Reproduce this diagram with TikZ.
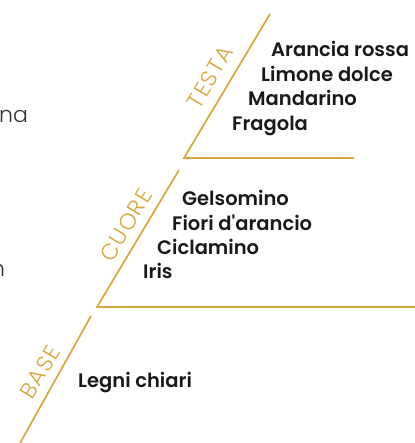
\documentclass[tikz,border=0pt]{standalone}
\usepackage{fontspec}
\setmainfont{Poppins}
\newfontfamily\notefont{Poppins SemiBold}
\newfontfamily\lightfont{Poppins Light}[LetterSpace=6]
\newfontfamily\cutfont{Poppins Light}
\definecolor{gold}{RGB}{212,168,58}
\definecolor{ink}{RGB}{25,25,25}
\definecolor{grayink}{RGB}{50,50,50}
\begin{document}
\begin{tikzpicture}[x=1pt,y=-1pt,
  tier/.style={draw=gold,line width=1.7pt},
  note/.style={anchor=base west,inner sep=0pt,text=ink,font=\notefont\fontsize{19.5}{22}\selectfont},
  side/.style={inner sep=0pt,text=gold,font=\lightfont\fontsize{22.5}{24}\selectfont,rotate=59},
  cut/.style={anchor=base west,inner sep=0pt,text=grayink,font=\cutfont\fontsize{22}{24}\selectfont}]
\useasboundingbox (0,0) rectangle (414,443);
% tiers
\coordinate (t1) at (270,14);
\coordinate (t2) at (184,158);
\coordinate (t3) at (354,158);
\coordinate (c1) at (179,170);
\coordinate (c2) at (97,307);
\coordinate (c3) at (416,307);
\coordinate (b1) at (91,316);
\coordinate (b2) at (19,445);
\draw[tier] (t1) -- (t2) -- (t3);
\draw[tier] (c1) -- (c2) -- (c3);
\draw[tier] (b1) -- (b2);
% side labels
\node[side] (testa) at (210,77) {TESTA};
\node[side] (cuore) at (126,225) {CUORE};
\node[side] (base) at (40,372) {BASE};
% notes
\node[note] (n1) at (271,57) {Arancia rossa};
\node[note] (n2) at (261,82) {Limone dolce};
\node[note] (n3) at (248,106) {Mandarino};
\node[note] (n4) at (232,131) {Fragola};
\node[note] (n5) at (182,206) {Gelsomino};
\node[note] (n6) at (172,230) {Fiori d'arancio};
\node[note] (n7) at (157,254) {Ciclamino};
\node[note] (n8) at (143,278) {Iris};
\node[note] (n9) at (78,387) {Legni chiari};
% cut-off texts at left edge
\node[cut] (l1) at (-1,123) {na};
\node[cut] (l2) at (-9,276) {n};
\end{tikzpicture}
\end{document}
